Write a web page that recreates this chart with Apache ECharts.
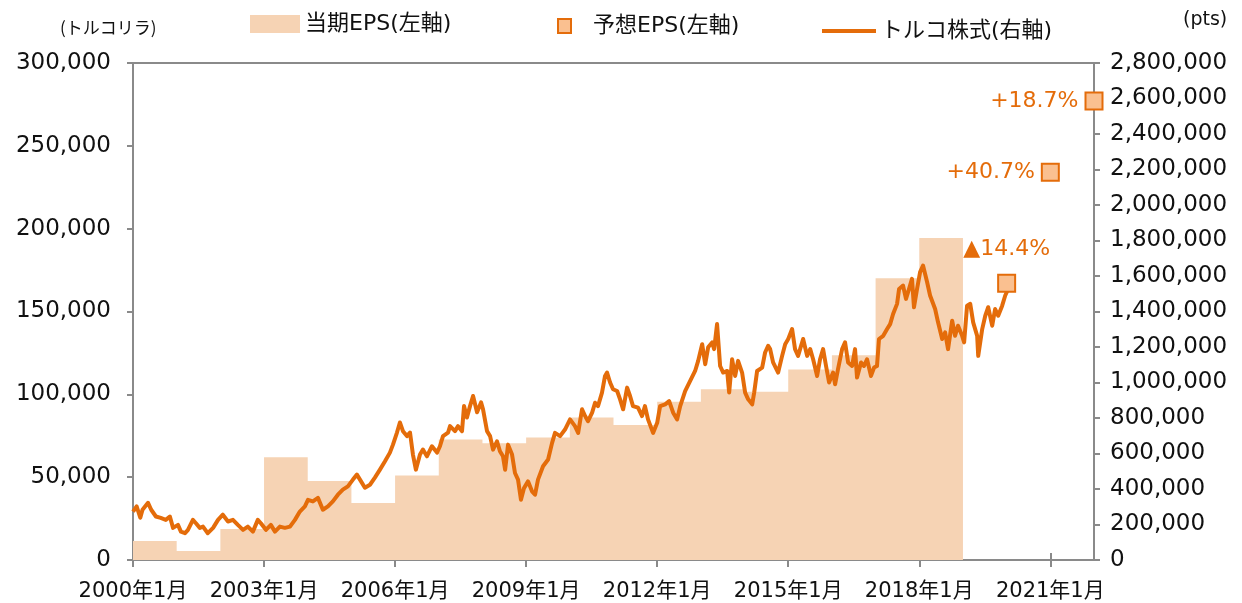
<!DOCTYPE html>
<html>
<head>
<meta charset="utf-8">
<script src="https://cdn.jsdelivr.net/npm/echarts@6/dist/echarts.min.js"></script>
<style>
html,body{margin:0;padding:0;background:#fff;}
#chart{width:1242px;height:603px;}
</style>
</head>
<body>
<div id="chart"></div>
<script>
// ---- data ----
const epsYears = [2000,2001,2002,2003,2004,2005,2006,2007,2008,2009,2010,2011,2012,2013,2014,2015,2016,2017,2018];
const epsValues = [11500,5500,18700,62000,47700,34400,51000,72800,70500,74000,86000,81500,95500,103000,101500,115000,123600,170000,194300];
const epsEndYear = 2019;

const forecastDates = ['2020-01-01','2021-01-01','2022-01-01'];
const forecastValues = [167000,234000,277000];
const forecastLabels = ['▲14.4%','+40.7%','+18.7%'];

const stockDates = [
'2000-01-01','2000-02-01','2000-03-01','2000-03-20','2000-05-05','2000-06-01','2000-07-10','2000-08-20','2000-10-01','2000-11-05','2000-12-01',
'2001-01-12','2001-02-06','2001-03-10','2001-04-04','2001-05-15','2001-06-10','2001-07-12','2001-08-08','2001-09-18','2001-11-01','2001-12-12',
'2002-01-22','2002-03-04','2002-04-15','2002-05-26','2002-07-08','2002-08-18','2002-09-30','2002-11-10','2002-12-05',
'2003-01-17','2003-02-28','2003-04-01','2003-05-12','2003-06-23','2003-08-05','2003-09-16','2003-10-27','2003-12-08',
'2004-01-03','2004-02-14','2004-03-26','2004-05-06','2004-06-18','2004-07-29','2004-09-10','2004-10-21','2004-12-02',
'2005-01-14','2005-02-17','2005-03-12','2005-04-23','2005-06-04','2005-07-15','2005-08-27','2005-10-08','2005-11-19','2005-12-14',
'2006-01-17','2006-02-11','2006-03-06','2006-04-09','2006-05-04','2006-05-29','2006-06-23','2006-07-27','2006-08-21','2006-09-24','2006-11-05','2006-12-17',
'2007-01-11','2007-02-06','2007-03-18','2007-04-04','2007-05-15','2007-06-10','2007-07-13','2007-07-30','2007-08-24','2007-09-19','2007-10-14','2007-11-17','2007-12-20',
'2008-01-06','2008-02-09','2008-03-04','2008-03-29','2008-05-01','2008-05-26','2008-06-21','2008-07-08','2008-08-02','2008-09-05','2008-09-30','2008-10-25','2008-11-19','2008-12-14',
'2009-01-17','2009-02-20','2009-03-15','2009-04-09','2009-05-21','2009-07-02','2009-08-05','2009-08-30','2009-10-11','2009-11-22',
'2010-01-03','2010-02-14','2010-03-10','2010-04-12','2010-05-07','2010-06-01','2010-07-05','2010-07-30','2010-08-24','2010-09-27','2010-10-22','2010-11-08','2010-12-03','2010-12-28',
'2011-02-01','2011-02-26','2011-03-21','2011-04-24','2011-05-18','2011-06-12','2011-07-24','2011-08-27','2011-09-21','2011-10-16','2011-11-28',
'2012-01-01','2012-01-26','2012-03-07','2012-04-10','2012-05-13','2012-06-16','2012-07-11','2012-08-22','2012-10-03','2012-11-14','2012-12-09',
'2013-01-12','2013-02-07','2013-03-01','2013-04-04','2013-04-21','2013-05-15','2013-06-10','2013-07-05','2013-08-08','2013-08-25','2013-09-19','2013-10-14','2013-11-08','2013-12-11',
'2014-01-06','2014-02-01','2014-03-04','2014-03-21','2014-04-15','2014-05-27','2014-06-21','2014-07-16','2014-08-02','2014-08-27','2014-10-08','2014-11-11','2014-12-06',
'2015-01-01','2015-02-03','2015-02-28','2015-03-23','2015-05-04','2015-06-07','2015-07-02','2015-07-27','2015-08-30','2015-09-24','2015-10-19','2015-11-13','2015-12-08',
'2016-01-11','2016-01-28','2016-02-22','2016-03-26','2016-04-20','2016-05-15','2016-06-18','2016-07-12','2016-07-29','2016-09-01','2016-09-26','2016-10-21','2016-11-24','2016-12-19',
'2017-01-13','2017-01-30','2017-03-04','2017-04-06','2017-05-01','2017-05-26','2017-06-29','2017-07-15','2017-08-18','2017-09-12','2017-10-07','2017-11-01','2017-11-18','2017-12-13',
'2018-01-08','2018-02-02','2018-03-06','2018-03-31','2018-05-12','2018-06-06','2018-07-10','2018-08-04','2018-08-29','2018-10-02','2018-10-27','2018-11-21','2018-12-25',
'2019-01-11','2019-02-05','2019-03-01','2019-03-26','2019-04-29','2019-05-07','2019-06-10','2019-07-05','2019-07-30','2019-09-02','2019-09-27','2019-10-22','2019-11-25','2019-12-20',
'2020-01-14'
];
const stockValues = [
273000,302000,238000,283000,322000,283000,245000,237000,226000,245000,181000,
198000,160000,151000,170000,226000,207000,181000,188000,151000,181000,226000,
255000,217000,226000,198000,170000,188000,160000,226000,207000,
170000,198000,160000,188000,181000,188000,226000,273000,302000,
339000,330000,350000,283000,302000,330000,368000,396000,415000,
453000,481000,453000,407000,424000,464000,509000,556000,605000,650000,
718000,775000,726000,698000,718000,594000,509000,594000,622000,584000,641000,605000,
641000,698000,718000,754000,726000,754000,726000,867000,803000,867000,924000,832000,888000,
849000,726000,698000,622000,669000,613000,584000,509000,650000,594000,490000,453000,339000,405000,
443000,387000,368000,453000,528000,566000,660000,716000,698000,735000,
792000,754000,716000,849000,811000,782000,830000,886000,867000,943000,1037000,1056000,1000000,962000,
952000,905000,849000,971000,924000,867000,858000,811000,867000,792000,716000,
773000,867000,877000,895000,830000,792000,867000,952000,1009000,1065000,1122000,
1216000,1103000,1198000,1226000,1188000,1329000,1093000,1056000,1065000,943000,1131000,1037000,1122000,1056000,
943000,905000,877000,943000,1065000,1084000,1169000,1207000,1188000,1113000,1056000,1150000,1216000,
1245000,1301000,1188000,1150000,1245000,1150000,1188000,1131000,1037000,1131000,1188000,1093000,1000000,
1056000,990000,1075000,1188000,1226000,1113000,1093000,1188000,1028000,1113000,1093000,1131000,1037000,1084000,
1093000,1245000,1263000,1301000,1329000,1386000,1443000,1527000,1546000,1471000,1527000,1584000,1424000,1527000,
1622000,1659000,1565000,1490000,1414000,1339000,1245000,1282000,1188000,1348000,1263000,1320000,1263000,
1226000,1433000,1443000,1339000,1263000,1150000,1301000,1376000,1424000,1320000,1414000,1376000,1433000,1490000,
1527000
];

// ---- helpers ----
function toMonths(s){
  const p = s.split('-').map(Number);
  return (p[0]-2000)*12 + (p[1]-1) + ((p[2]||1)-1)/31;
}
const numFont = '"DejaVu Sans", "Noto Sans CJK JP", sans-serif';
const axisColor = '#8a8a8a';
const textColor = '#111111';
const orange = '#E46C0A';
const barColor = '#F6D3B4';
const squareFill = '#FAC090';

const epsData = epsYears.map((y,i)=>[(y-2000)*12, epsValues[i]]);
epsData.push([(epsEndYear-2000)*12, epsValues[epsValues.length-1]]);

const stockData = stockDates.map((d,i)=>[toMonths(d), stockValues[i]]);

const labelCfg = [
  {position:'top', distance:14},
  {position:'left', distance:6},
  {position:'left', distance:6}
];
const forecastData = forecastDates.map((d,i)=>({
  value:[toMonths(d), forecastValues[i]],
  label:Object.assign({show:true, formatter:forecastLabels[i]}, labelCfg[i])
}));

const chart = echarts.init(document.getElementById('chart'));
const option = {
  animation:false,
  backgroundColor:'#fff',
  grid:{left:133, right:148, top:63, bottom:43, show:true, borderColor:axisColor, borderWidth:2, backgroundColor:'transparent'},
  legend:[
    {left:250, top:13, padding:0, itemWidth:50, itemHeight:18, selectedMode:false,
     textStyle:{fontFamily:numFont, fontSize:22, color:textColor},
     data:[{name:'当期EPS(左軸)', icon:'rect', itemStyle:{color:barColor, borderWidth:0}}]},
    {left:557, top:15, padding:0, itemWidth:13, itemHeight:14, selectedMode:false,
     textStyle:{fontFamily:numFont, fontSize:22, color:textColor, padding:[0,0,0,17]},
     data:[{name:'予想EPS(左軸)', icon:'rect'}]},
    {left:822, top:20, padding:0, itemWidth:54, itemHeight:4, selectedMode:false,
     textStyle:{fontFamily:numFont, fontSize:22, color:textColor},
     data:[{name:'トルコ株式(右軸)', icon:'rect', itemStyle:{color:orange, borderWidth:0}}]}
  ],
  graphic:[
    {type:'text', left:60, top:19, style:{text:'(トルコリラ)', font:'17px "Noto Sans CJK JP", sans-serif', fill:textColor}},
    {type:'text', left:1183, top:11, style:{text:'(pts)', font:'19px "DejaVu Sans", sans-serif', fill:textColor}}
  ],
  xAxis:[
    {type:'value', min:0, max:264, interval:36,
     axisLine:{onZero:false, lineStyle:{color:axisColor, width:2}},
     axisTick:{show:true, length:7, lineStyle:{color:axisColor, width:2}},
     splitLine:{show:false},
     axisLabel:{showMaxLabel:false, margin:21, fontFamily:numFont, fontSize:21, color:textColor,
       formatter:v=>(2000+Math.round(v/12))+'年1月'}},
    {type:'value', min:0, max:264, interval:36, position:'bottom',
     axisLine:{show:false, onZero:false},
     axisTick:{show:true, inside:true, length:7, lineStyle:{color:axisColor, width:2}},
     splitLine:{show:false}, axisLabel:{show:false}}
  ],
  yAxis:[
    {type:'value', min:0, max:300000, interval:50000, position:'left',
     axisLine:{show:true, onZero:false, lineStyle:{color:axisColor, width:2}},
     axisTick:{show:true, length:6, lineStyle:{color:axisColor, width:2}},
     splitLine:{show:false},
     axisLabel:{margin:22, fontFamily:numFont, fontSize:23, color:textColor,
       formatter:v=>v.toLocaleString('en-US')}},
    {type:'value', min:0, max:2800000, interval:200000, position:'right',
     axisLine:{show:true, onZero:false, lineStyle:{color:axisColor, width:2}},
     axisTick:{show:true, length:6, lineStyle:{color:axisColor, width:2}},
     splitLine:{show:false},
     axisLabel:{margin:16, fontFamily:numFont, fontSize:23, color:textColor,
       formatter:v=>v.toLocaleString('en-US')}}
  ],
  series:[
    {name:'当期EPS(左軸)', type:'line', step:'end', xAxisIndex:0, yAxisIndex:0,
     data:epsData, symbol:'none', z:1,
     itemStyle:{color:barColor},
     lineStyle:{width:0, color:barColor},
     areaStyle:{color:barColor, opacity:1}},
    {name:'トルコ株式(右軸)', type:'line', xAxisIndex:0, yAxisIndex:1,
     data:stockData, symbol:'none', z:3,
     itemStyle:{color:orange},
     lineStyle:{color:orange, width:4, join:'round'}},
    {name:'予想EPS(左軸)', type:'scatter', xAxisIndex:0, yAxisIndex:0,
     data:forecastData, symbol:'rect', symbolSize:17, z:5,
     itemStyle:{color:squareFill, borderColor:orange, borderWidth:2, opacity:1},
     label:{fontFamily:numFont, fontSize:22, color:orange}}
  ]
};
chart.setOption(option);
</script>
</body>
</html>
